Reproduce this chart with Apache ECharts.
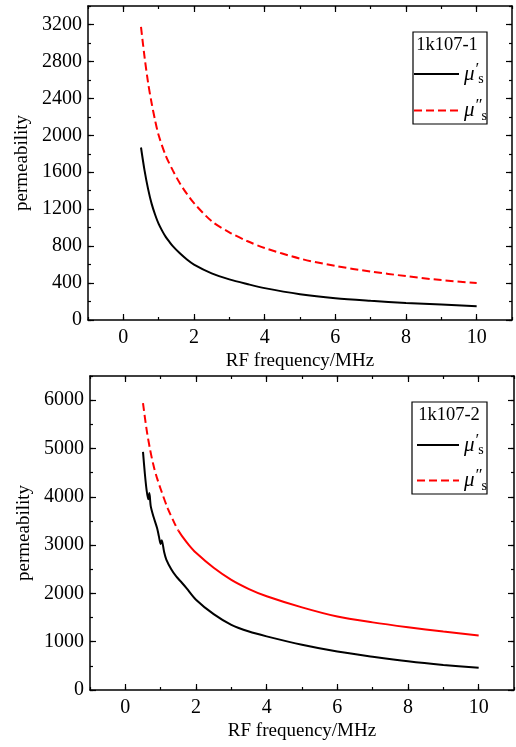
<!DOCTYPE html>
<html>
<head>
<meta charset="utf-8">
<script src="https://cdn.jsdelivr.net/npm/echarts@6/dist/echarts.min.js"></script>
<style>
html,body{margin:0;padding:0;background:#fff;}
#main{width:516px;height:747px;}
</style>
</head>
<body>
<div id="main"></div>
<script>
// 上图 1k107-1
var freqTop=[0.5,0.6,0.7,0.8,0.9,1.0,1.1,1.2,1.3,1.4,1.6,1.8,2,2.5,3,3.5,4,5,6,7,8,9,10];
var muRealTop=[1868,1620,1420,1260,1140,1040,965,900,848,800,722,655,600,505,440,390,345,280,236,208,185,167,150];
var freqTopRed=[0.5,0.6,0.7,0.8,0.9,1.0,1.2,1.4,1.6,1.8,2,2.5,3,3.5,4,5,6,7,8,9,10];
var muImagTop=[3174,2850,2570,2350,2160,2000,1780,1620,1480,1365,1265,1070,950,855,780,665,585,525,475,432,400];
// 下图 1k107-2
var freqBot=[0.5,0.55,0.6,0.65,0.68,0.72,0.8,0.9,0.95,1.0,1.03,1.1,1.16,1.3,1.44,1.6,1.73,2,2.5,3,3.5,4,5,6,7,8,9,10];
var muRealBot=[4930,4500,4150,3950,4080,3800,3580,3350,3180,3020,3100,2850,2700,2500,2350,2220,2110,1870,1570,1350,1210,1110,935,795,690,595,520,460];
var freqBotRed=[0.5,0.6,0.7,0.8,0.9,1.0,1.2,1.4,1.5,1.6,1.8,2,2.5,3,3.5,4,5,6,7,8,9,10];
var muImagBot=[5940,5400,4980,4640,4380,4160,3760,3440,3300,3190,3000,2840,2530,2280,2090,1940,1710,1520,1400,1300,1210,1130];

var xLabels=[0,2,4,6,8,10];
var yLabelsTop=[0,400,800,1200,1600,2000,2400,2800,3200];
var yLabelsBot=[0,1000,2000,3000,4000,5000,6000];
var titles=["1k107-1","1k107-2"];

var FONT="Liberation Serif";

function pairs(xs,ys){
	var out=[];
	for(var i=0;i<xs.length;i++){
		out.push([xs[i],ys[i]]);
	}
	return out;
}
function extend(){
	var o={};
	for(var i=0;i<arguments.length;i++){
		for(var k in arguments[i]){o[k]=arguments[i][k];}
	}
	return o;
}
function plain(v){
	return String(v);
}

var tickStyle={color:'#000',width:1.2};
var frame={show:true,onZero:false,lineStyle:{color:'#000',width:1.5}};
var noLine={show:false,onZero:false};

// 每个grid四根x轴: 底部主/次刻度, 顶部主/次刻度
function makeXAxes(g,majors){
	var base={gridIndex:g,type:'value',min:-1,max:11,splitLine:{show:false}};
	return [
		extend(base,{
			position:'bottom',
			name:'RF frequency/MHz',nameLocation:'middle',nameGap:32,
			nameTextStyle:{fontFamily:FONT,fontSize:19,color:'#000'},
			axisLine:frame,
			axisTick:{show:true,inside:true,length:6,customValues:majors,lineStyle:tickStyle},
			axisLabel:{show:true,customValues:majors,formatter:plain,margin:8,fontFamily:FONT,fontSize:20,color:'#000'}
		}),
		extend(base,{
			position:'bottom',interval:1,axisLine:noLine,
			axisTick:{show:true,inside:true,length:3,lineStyle:tickStyle},
			axisLabel:{show:false}
		}),
		extend(base,{
			position:'top',axisLine:frame,
			axisTick:{show:true,inside:true,length:6,customValues:majors,lineStyle:tickStyle},
			axisLabel:{show:false}
		}),
		extend(base,{
			position:'top',interval:1,axisLine:noLine,
			axisTick:{show:true,inside:true,length:3,lineStyle:tickStyle},
			axisLabel:{show:false}
		})
	];
}

function makeYAxes(g,max,minorStep,majors){
	var base={gridIndex:g,type:'value',min:0,max:max,splitLine:{show:false}};
	return [
		extend(base,{
			position:'left',
			name:'permeability',nameLocation:'middle',nameGap:48,
			nameTextStyle:{fontFamily:FONT,fontSize:19,color:'#000'},
			axisLine:frame,
			axisTick:{show:true,inside:true,length:6,customValues:majors,lineStyle:tickStyle},
			axisLabel:{show:true,customValues:majors,formatter:plain,margin:6,fontFamily:FONT,fontSize:20,color:'#000'}
		}),
		extend(base,{
			position:'left',interval:minorStep,axisLine:noLine,
			axisTick:{show:true,inside:true,length:3,lineStyle:tickStyle},
			axisLabel:{show:false}
		}),
		extend(base,{
			position:'right',axisLine:frame,
			axisTick:{show:true,inside:true,length:6,customValues:majors,lineStyle:tickStyle},
			axisLabel:{show:false}
		}),
		extend(base,{
			position:'right',interval:minorStep,axisLine:noLine,
			axisTick:{show:true,inside:true,length:3,lineStyle:tickStyle},
			axisLabel:{show:false}
		})
	];
}

function lineSeries(name,g,data,color,type){
	return {
		name:name,type:'line',xAxisIndex:g*4,yAxisIndex:g*4,
		data:data,symbol:'none',smooth:0.3,animation:false,
		lineStyle:{color:color,width:2,type:type},
		itemStyle:{color:color}
	};
}

var legendRich={
	mu:{fontFamily:FONT,fontStyle:'italic',fontSize:21,color:'#000'},
	pr:{fontFamily:FONT,fontStyle:'italic',fontSize:17,color:'#000',padding:[0,0,9,0]},
	sub:{fontFamily:FONT,fontSize:14,color:'#000',padding:[11,0,0,0]}
};
function legendText(name){
	if(name.charAt(0)=='a'){
		return '{mu|μ}{pr|′}{sub|s}';
	}
	return '{mu|μ}{pr|″}{sub|s}';
}

// 下图红线: 前段虚线, 后段实线 (原图导出效果)
var redEarly=[],redLate=[];
for(var i=0;i<freqBotRed.length;i++){
	if(freqBotRed[i]<=1.5) redEarly.push([freqBotRed[i],muImagBot[i]]);
	if(freqBotRed[i]>=1.5) redLate.push([freqBotRed[i],muImagBot[i]]);
}

var option={
	backgroundColor:'#fff',
	animation:false,
	grid:[
		{left:88,right:4,top:6,height:314},
		{left:90,right:2,top:376,height:314}
	],
	xAxis:makeXAxes(0,xLabels).concat(makeXAxes(1,xLabels)),
	yAxis:makeYAxes(0,3400,200,yLabelsTop).concat(makeYAxes(1,6500,500,yLabelsBot)),
	legend:[
		{data:['a1','b1'],orient:'vertical',left:413,top:61,itemWidth:45,itemHeight:2,itemGap:11,padding:0,z:60,
			itemStyle:{opacity:0},formatter:legendText,textStyle:{rich:legendRich}},
		{data:['a2','b2'],orient:'vertical',left:416,top:432,itemWidth:42,itemHeight:2,itemGap:10,padding:0,z:60,
			itemStyle:{opacity:0},formatter:legendText,textStyle:{rich:legendRich}}
	],
	graphic:[
		{type:'rect',shape:{x:413,y:32,width:74,height:92},style:{fill:'#fff',stroke:'#000',lineWidth:1.2},z:50},
		{type:'text',x:447,y:45,style:{text:titles[0],fontFamily:FONT,fontSize:18.5,fill:'#000',align:'center',verticalAlign:'middle'},z:51},
		{type:'rect',shape:{x:412,y:402,width:75,height:92},style:{fill:'#fff',stroke:'#000',lineWidth:1.2},z:50},
		{type:'text',x:449,y:415,style:{text:titles[1],fontFamily:FONT,fontSize:18.5,fill:'#000',align:'center',verticalAlign:'middle'},z:51}
	],
	series:[
		lineSeries('a1',0,pairs(freqTop,muRealTop),'#000','solid'),
		lineSeries('b1',0,pairs(freqTopRed,muImagTop),'#ff0000',[8,4]),
		lineSeries('a2',1,pairs(freqBot,muRealBot),'#000','solid'),
		lineSeries('b2',1,redEarly,'#ff0000',[8,4]),
		lineSeries('b2',1,redLate,'#ff0000','solid')
	]
};

var myChart=echarts.init(document.getElementById('main'));
myChart.setOption(option);
</script>
</body>
</html>
